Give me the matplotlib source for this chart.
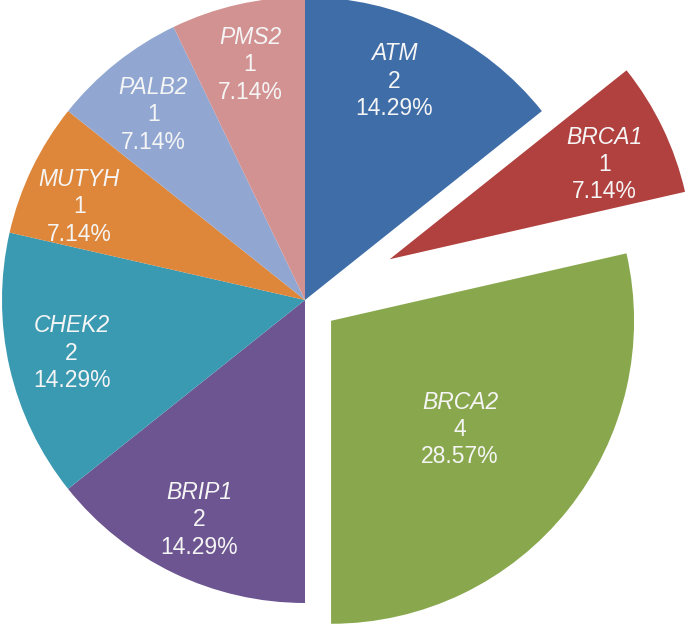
import matplotlib
matplotlib.use("Agg")
import matplotlib.pyplot as plt
import numpy as np

genes = ["ATM", "BRCA1", "BRCA2", "BRIP1", "CHEK2", "MUTYH", "PALB2", "PMS2"]
counts = [2, 1, 4, 2, 2, 1, 1, 1]
percents = ["14.29%", "7.14%", "28.57%", "14.29%", "14.29%", "7.14%", "7.14%", "7.14%"]

colors = ["#3F6DA8", "#B0413F", "#89A84D", "#6D5592", "#3A9AB2", "#DE8639", "#91A7D2", "#D39292"]
explode = [0, 0.31, 0.11, 0, 0, 0, 0, 0]
# label placement relative to each wedge (radius fraction, angle nudge in degrees)
label_r = [0.78, 0.776, 0.557, 0.805, 0.79, 0.806, 0.79, 0.797]
label_dang = [3.6, -1.9, -1.6, 0.0, 0.0, 3.3, 0.8, 0.3]

R = 303.0
fig = plt.figure(figsize=(6.85, 6.30), dpi=100)
ax = fig.add_axes([0, 0, 1, 1])
wedges, _ = ax.pie(counts, colors=colors, explode=explode, startangle=90,
                   counterclock=False, radius=1.0,
                   wedgeprops=dict(linewidth=0))
ax.set_xlim(-305 / R, (685 - 305) / R)
ax.set_ylim(-(630 - 300) / R, 300 / R)
ax.set_aspect("auto")
ax.axis("off")

step = 0.09
for w, g, c, p, lr, da in zip(wedges, genes, counts, percents, label_r, label_dang):
    ang = np.deg2rad((w.theta1 + w.theta2) / 2 + da)
    cx, cy = w.center
    x = cx + lr * np.cos(ang)
    y = cy + lr * np.sin(ang)
    kw = dict(ha="center", va="center", color="#F5F5F5", fontsize=16.5,
              family="Liberation Sans")
    ax.text(x, y + step, g, fontstyle="italic", **kw)
    ax.text(x, y, str(c), **kw)
    ax.text(x, y - step, p, **kw)

fig.savefig("out.png", dpi=100, facecolor="white")
